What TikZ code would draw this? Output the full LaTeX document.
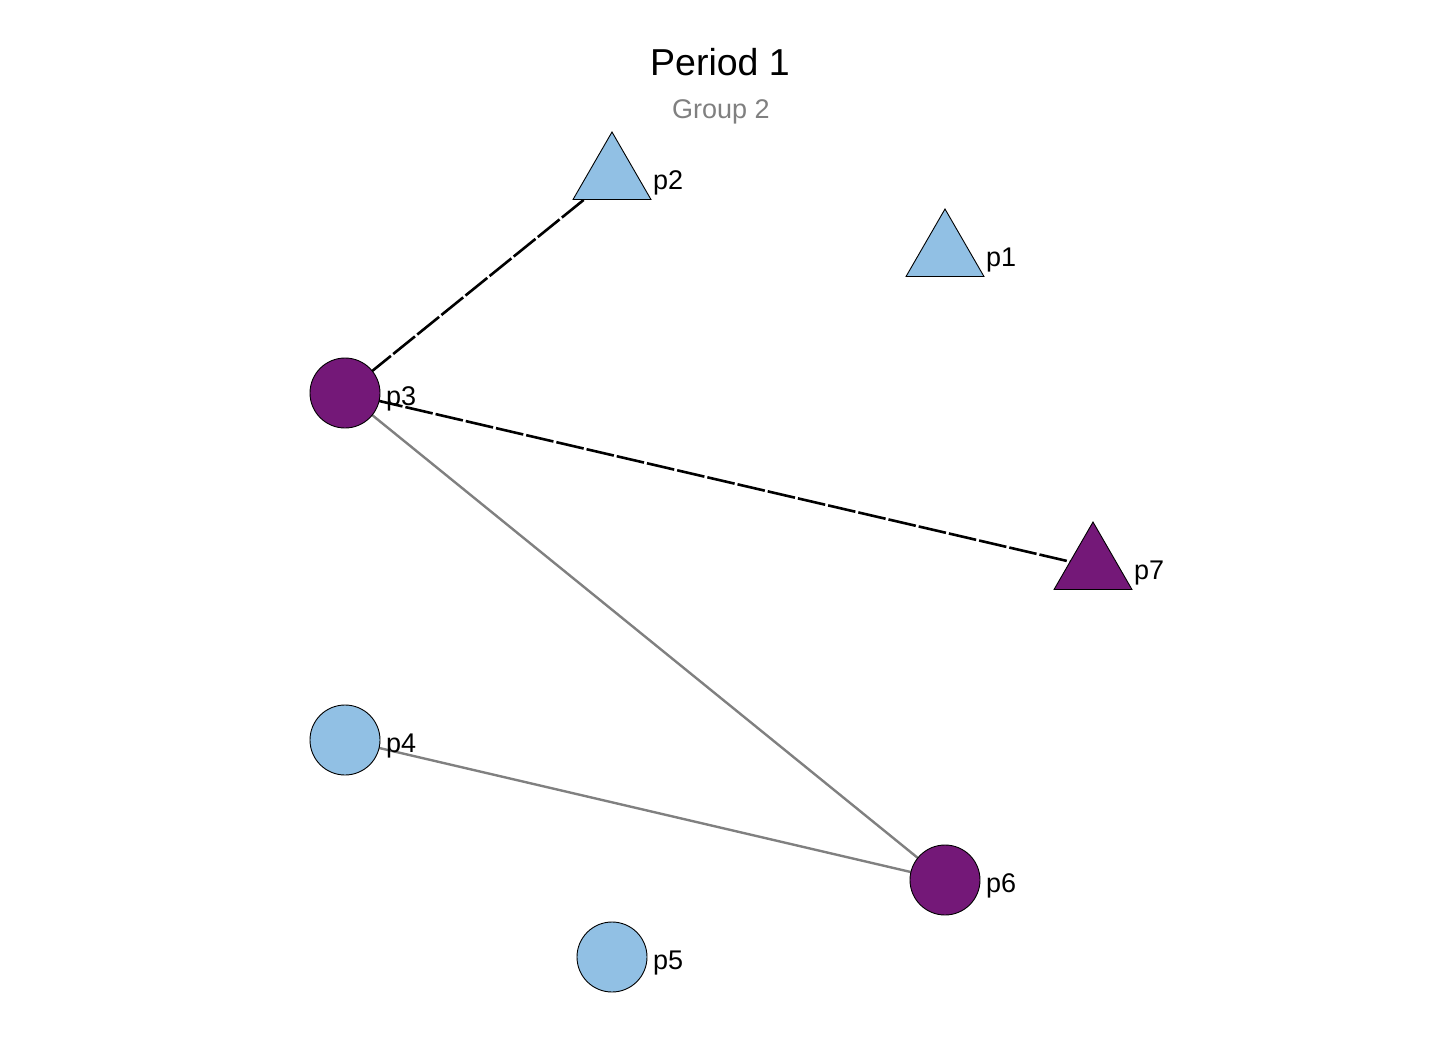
\documentclass[tikz,border=0pt]{standalone}
\usepackage{fontspec}
\setmainfont{Liberation Sans}
\usetikzlibrary{shapes.geometric}
\definecolor{lightblue}{RGB}{145,192,228}
\definecolor{darkpurple}{RGB}{116,24,120}
\begin{document}
\begin{tikzpicture}[x=1pt, y=-1pt,
    every node/.style={inner sep=0pt},
    circ/.style={draw, circle, line width=0.9pt, minimum size=70pt},
    tri/.style={draw, regular polygon, regular polygon sides=3, line width=0.9pt, minimum size=90pt},
    lbl/.style={anchor=base west, font=\fontsize{27}{30}\selectfont},
    tie/.style={line width=2.6pt, dash pattern=on 28pt off 3pt},
    link/.style={line width=2.4pt, gray}]
          \useasboundingbox (0,0) rectangle (1444,1050);
          \node [anchor=base, font=\fontsize{37.5}{40}\selectfont] (title) at (720,75) {Period 1};
          \node [anchor=base, gray, font=\fontsize{27}{30}\selectfont] (sub) at (721,118) {Group 2};
          % edges first, nodes on top
          \coordinate (c1) at (945,254);
          \coordinate (c2) at (612,177);
          \coordinate (c3) at (345,393);
          \coordinate (c4) at (345,740);
          \coordinate (c5) at (612,957);
          \coordinate (c6) at (945,880);
          \coordinate (c7) at (1093,567);
          \draw [tie] (c3) -- (c2);
          \draw [tie] (c3) -- (c7);
          \draw [link] (c3) -- (c6);
          \draw [link] (c4) -- (c6);
          \node [tri, fill=lightblue] (p1) at (c1) {};
          \node [tri, fill=lightblue] (p2) at (c2) {};
          \node [circ, fill=darkpurple] (p3) at (c3) {};
          \node [circ, fill=lightblue] (p4) at (c4) {};
          \node [circ, fill=lightblue] (p5) at (c5) {};
          \node [circ, fill=darkpurple] (p6) at (c6) {};
          \node [tri, fill=darkpurple] (p7) at (c7) {};
          \node [lbl] (l1) at (986,266) {p1};
          \node [lbl] (l2) at (653,189) {p2};
          \node [lbl] (l3) at (386,405) {p3};
          \node [lbl] (l4) at (386,752) {p4};
          \node [lbl] (l5) at (653,969) {p5};
          \node [lbl] (l6) at (986,892) {p6};
          \node [lbl] (l7) at (1134,579) {p7};
        \end{tikzpicture}
\end{document}
